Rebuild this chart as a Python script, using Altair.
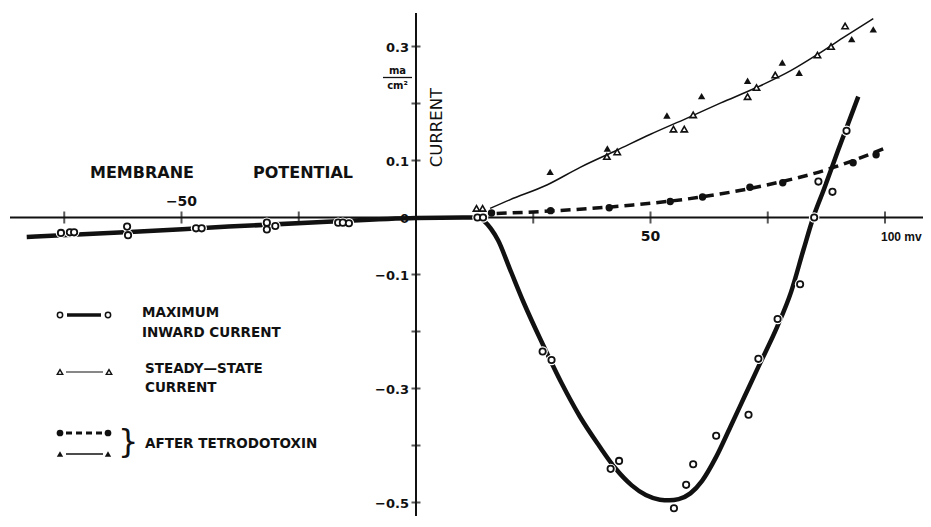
import altair as alt
import pandas as pd

# ---------------- data (mV, mA/cm2) ----------------
# Maximum inward current: open circles + thick fitted curve
peak_x = [-75.7, -73.8, -72.9, -61.6, -61.4, -46.9, -45.7, -31.8, -31.8, -30.0,
          -16.6, -15.6, -14.3, 13.1, 14.3, 27.0, 28.9, 41.5, 43.3, 55.0, 57.6,
          59.1, 64.0, 70.9, 73.0, 77.1, 81.9, 84.9, 85.8, 88.8, 91.8]
peak_y = [-0.027, -0.026, -0.026, -0.016, -0.031, -0.019, -0.019, -0.009, -0.021, -0.015,
          -0.009, -0.009, -0.010, 0.0, 0.0, -0.235, -0.250, -0.441, -0.427, -0.510, -0.469,
          -0.433, -0.383, -0.346, -0.248, -0.178, -0.117, 0.0, 0.063, 0.045, 0.152]
peak_fit_x = [-83, -60, -40, -20, 0, 10, 13, 14.5, 16, 17.5, 20, 23, 27, 31, 35, 39,
              42.5, 46, 49, 52, 54, 56, 58.5, 61, 64, 67, 70, 73, 77, 80, 82.6, 84.7,
              87, 90, 94.3]
peak_fit_y = [-0.034, -0.025, -0.016, -0.008, -0.001, 0.0, 0.0, -0.006, -0.02, -0.04,
              -0.09, -0.15, -0.222, -0.29, -0.35, -0.40, -0.44, -0.47, -0.487, -0.495,
              -0.496, -0.494, -0.484, -0.462, -0.42, -0.368, -0.315, -0.262, -0.192,
              -0.13, -0.057, 0.0, 0.05, 0.118, 0.212]

# Steady-state current: open triangles + thin line
ss_x = [12.9, 14.2, 40.7, 42.9, 54.9, 57.2, 59.1, 70.7, 72.6, 76.6, 85.6, 88.5, 91.5]
ss_y = [0.016, 0.016, 0.107, 0.115, 0.155, 0.155, 0.180, 0.212, 0.228, 0.250, 0.285, 0.300, 0.336]
ss_fit_x = [15.8, 20, 27.9, 35, 42.8, 50, 57.7, 65, 72.6, 80, 85.4, 91, 97.5]
ss_fit_y = [0.016, 0.031, 0.057, 0.088, 0.118, 0.146, 0.174, 0.201, 0.228, 0.258, 0.285, 0.315, 0.349]

# After tetrodotoxin: filled triangles (steady state), filled circles (peak, dashed line)
ttx_ss_x = [28.6, 40.8, 53.5, 60.9, 70.7, 78.1, 81.7, 92.9, 97.5]
ttx_ss_y = [0.080, 0.121, 0.179, 0.213, 0.240, 0.272, 0.254, 0.313, 0.330]
ttx_peak_x = [16.1, 28.7, 41.2, 54.2, 61.1, 71.2, 78.2, 93.2, 98.1]
ttx_peak_y = [0.008, 0.012, 0.017, 0.028, 0.036, 0.053, 0.061, 0.096, 0.110]
ttx_fit_x = [17.2, 30, 46.3, 60, 74.8, 88, 100.7]
ttx_fit_y = [0.007, 0.012, 0.022, 0.035, 0.057, 0.085, 0.124]

# axes
x_tick_vals = [-75, -50, -25, 25, 50, 75, 100]
y_tick_vals = [0.3, 0.2, 0.1, -0.1, -0.2, -0.3, -0.4, -0.5]
y_label_vals = [0.3, 0.1, 0.0, -0.1, -0.3, -0.5]
y_label_text = ["0.3", "0.1", "0", "\u22120.1", "\u22120.3", "\u22120.5"]

# ---------------- layout ----------------
W, H = 915, 508
PX_PER_MV = 4.69
X0_PX = 408.0
PX_PER_UNIT = 570.0
Y0_PX = 209.5
xs = alt.Scale(domain=[-X0_PX / PX_PER_MV, (W - X0_PX) / PX_PER_MV], nice=False, zero=False)
ys = alt.Scale(domain=[-(H - Y0_PX) / PX_PER_UNIT, Y0_PX / PX_PER_UNIT], nice=False, zero=False)
FONT = "DejaVu Sans"
INK = "#111111"


def X(f):
    return alt.X(f, type="quantitative", scale=xs, axis=None)


def Y(f):
    return alt.Y(f, type="quantitative", scale=ys, axis=None)


def df(xv, yv):
    return pd.DataFrame({"x": xv, "y": yv})


one = pd.DataFrame({"k": [0]})

layers = []

# axis lines
layers.append(alt.Chart(one).mark_rule(color=INK, strokeWidth=2).encode(
    y=alt.YDatum(0, type="quantitative", scale=ys, axis=None), x=alt.value(2), x2=alt.value(W)))
layers.append(alt.Chart(one).mark_rule(color=INK, strokeWidth=2).encode(
    x=alt.XDatum(0, type="quantitative", scale=xs, axis=None), y=alt.value(5), y2=alt.value(H)))

# ticks
layers.append(alt.Chart(pd.DataFrame({"v": x_tick_vals})).mark_tick(
    orient="vertical", size=12, thickness=2, color=INK).encode(
    x=X("v"), y=alt.YDatum(0, type="quantitative", scale=ys, axis=None)))
layers.append(alt.Chart(pd.DataFrame({"v": y_tick_vals})).mark_tick(
    orient="horizontal", size=9, thickness=2, color=INK).encode(
    y=Y("v"), x=alt.XDatum(0, type="quantitative", scale=xs, axis=None)))

# tick labels
layers.append(alt.Chart(pd.DataFrame({"v": y_label_vals, "t": y_label_text})).mark_text(
    align="right", baseline="middle", dx=-7, dy=1, font=FONT, fontSize=13, fontWeight="bold",
    color=INK).encode(y=Y("v"), x=alt.XDatum(0, type="quantitative", scale=xs, axis=None),
                      text="t:N"))
layers.append(alt.Chart(pd.DataFrame({"v": [-50], "t": ["\u221250"]})).mark_text(
    align="center", baseline="middle", dy=-16, font=FONT, fontSize=14, fontWeight="bold",
    color=INK).encode(x=X("v"), y=alt.YDatum(0, type="quantitative", scale=ys, axis=None),
                      text="t:N"))
layers.append(alt.Chart(pd.DataFrame({"v": [50], "t": ["50"]})).mark_text(
    align="center", baseline="middle", dy=19, font=FONT, fontSize=14, fontWeight="bold",
    color=INK).encode(x=X("v"), y=alt.YDatum(0, type="quantitative", scale=ys, axis=None),
                      text="t:N"))
layers.append(alt.Chart(pd.DataFrame({"v": [100], "t": ["100 mv"]})).mark_text(
    align="left", baseline="middle", dx=-4, dy=19, font="Liberation Sans", fontSize=12,
    fontWeight="bold", color=INK).encode(
    x=X("v"), y=alt.YDatum(0, type="quantitative", scale=ys, axis=None), text="t:N"))

# fitted lines
layers.append(alt.Chart(df(ss_fit_x, ss_fit_y)).mark_line(
    color=INK, strokeWidth=1.5, interpolate="monotone").encode(x=X("x"), y=Y("y")))
layers.append(alt.Chart(df(ttx_fit_x, ttx_fit_y)).mark_line(
    color=INK, strokeWidth=3.5, strokeDash=[10, 6], interpolate="monotone").encode(x=X("x"), y=Y("y")))
layers.append(alt.Chart(df(peak_fit_x, peak_fit_y)).mark_line(
    color=INK, strokeWidth=4.5, interpolate="monotone").encode(x=X("x"), y=Y("y")))

# white halos for open circles (gaps in the thick curve)
layers.append(alt.Chart(df(peak_x, peak_y)).mark_point(
    shape="circle", filled=True, color="white", opacity=1, size=110).encode(x=X("x"), y=Y("y")))

# points
layers.append(alt.Chart(df(peak_x, peak_y)).mark_point(
    shape="circle", filled=False, fill="white", fillOpacity=1, stroke=INK, strokeWidth=1.8,
    opacity=1, size=40).encode(x=X("x"), y=Y("y")))
layers.append(alt.Chart(df(ss_x, ss_y)).mark_point(
    shape="triangle-up", filled=False, fill="white", fillOpacity=1, stroke=INK, strokeWidth=1.6,
    opacity=1, size=40).encode(x=X("x"), y=Y("y")))
layers.append(alt.Chart(df(ttx_ss_x, ttx_ss_y)).mark_point(
    shape="triangle-up", filled=True, color=INK, opacity=1, size=55).encode(x=X("x"), y=Y("y")))
layers.append(alt.Chart(df(ttx_peak_x, ttx_peak_y)).mark_point(
    shape="circle", filled=True, color=INK, opacity=1, size=55).encode(x=X("x"), y=Y("y")))


# ---------------- text annotations (pixel placed) ----------------
def label(txt, px, py, size=14, weight="bold", align="left", angle=0):
    return alt.Chart(one).mark_text(
        text=txt, align=align, baseline="middle", font=FONT, fontSize=size,
        fontWeight=weight, color=INK, angle=angle).encode(x=alt.value(px), y=alt.value(py))


layers.append(label("MEMBRANE", 82, 165, size=16))
layers.append(label("POTENTIAL", 245, 165, size=16))
layers.append(label("CURRENT", 429, 119.5, size=16.5, weight="normal", align="center", angle=270))
layers.append(label("ma", 389.5, 63, size=10, align="center"))
layers.append(label("cm\u00b2", 389.5, 78, size=10, align="center"))
layers.append(alt.Chart(one).mark_rule(color=INK, strokeWidth=1.3).encode(
    x=alt.value(375), x2=alt.value(404), y=alt.value(69.5)))

# legend
LX1, LX2 = 52, 100
layers.append(alt.Chart(one).mark_rule(color=INK, strokeWidth=3.5).encode(
    x=alt.value(LX1 + 7), x2=alt.value(LX2 - 7), y=alt.value(307)))
layers.append(alt.Chart(pd.DataFrame({"px": [LX1, LX2]})).mark_point(
    shape="circle", filled=False, fill="white", fillOpacity=1, stroke=INK, strokeWidth=1.5,
    opacity=1, size=28).encode(x=alt.X("px:Q", scale=None, axis=None), y=alt.value(307)))
layers.append(label("MAXIMUM", 134, 305, size=13.5))
layers.append(label("INWARD CURRENT", 134, 325, size=13.5))

layers.append(alt.Chart(one).mark_rule(color=INK, strokeWidth=1.2).encode(
    x=alt.value(LX1 + 6), x2=alt.value(LX2 - 5), y=alt.value(364)))
layers.append(alt.Chart(pd.DataFrame({"px": [LX1, LX2 + 1]})).mark_point(
    shape="triangle-up", filled=False, fill="white", fillOpacity=1, stroke=INK, strokeWidth=1.4,
    opacity=1, size=30).encode(x=alt.X("px:Q", scale=None, axis=None), y=alt.value(364)))
layers.append(label("STEADY\u2014STATE", 137, 361, size=13.5))
layers.append(label("CURRENT", 137, 380, size=13.5))

layers.append(alt.Chart(one).mark_rule(color=INK, strokeWidth=3, strokeDash=[6, 4]).encode(
    x=alt.value(LX1 + 6), x2=alt.value(LX2 - 5), y=alt.value(425)))
layers.append(alt.Chart(pd.DataFrame({"px": [LX1, LX2]})).mark_point(
    shape="circle", filled=True, color=INK, opacity=1, size=45).encode(
    x=alt.X("px:Q", scale=None, axis=None), y=alt.value(425)))
layers.append(alt.Chart(one).mark_rule(color=INK, strokeWidth=1.3).encode(
    x=alt.value(LX1 + 6), x2=alt.value(LX2 - 5), y=alt.value(446)))
layers.append(alt.Chart(pd.DataFrame({"px": [LX1, LX2]})).mark_point(
    shape="triangle-up", filled=True, color=INK, opacity=1, size=40).encode(
    x=alt.X("px:Q", scale=None, axis=None), y=alt.value(446)))
layers.append(label("}", 110, 434, size=32, weight="normal"))
layers.append(label("AFTER TETRODOTOXIN", 137, 436, size=13.5))

chart = alt.layer(*layers).properties(
    width=W, height=H, padding=0, autosize=alt.AutoSizeParams(type="none")
).configure_view(stroke=None)

chart.save("out.html", embed_options={"renderer": "svg", "actions": False})
